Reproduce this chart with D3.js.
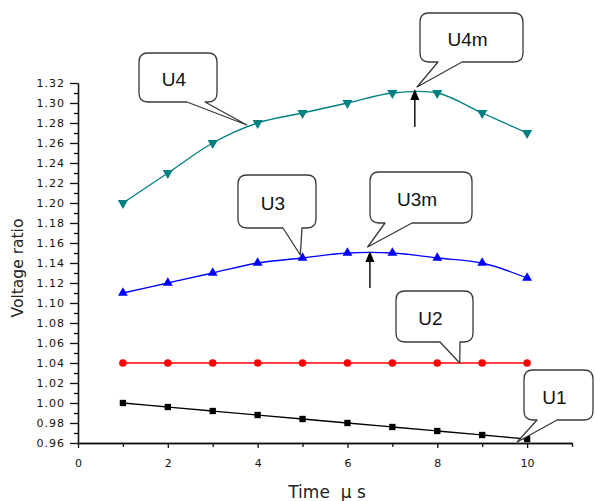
<!DOCTYPE html>
<html>
<head>
<meta charset="utf-8">
<script src="https://cdn.jsdelivr.net/npm/d3@7"></script>
<style>
	body { margin: 0; background: #fff; }
	svg { display: block; }
</style>
</head>
<body>
<svg id="chart" width="595" height="501"></svg>
<script>
// values
var time = [1, 2, 3, 4, 5, 6, 7, 8, 9, 10];
var u1 = [1.000, 0.996, 0.992, 0.988, 0.984, 0.980, 0.976, 0.972, 0.968, 0.964];
var u2 = [1.04, 1.04, 1.04, 1.04, 1.04, 1.04, 1.04, 1.04, 1.04, 1.04];
var u3 = [1.110, 1.120, 1.130, 1.140, 1.145, 1.150, 1.150, 1.145, 1.140, 1.125];
var u4 = [1.200, 1.230, 1.260, 1.280, 1.290, 1.300, 1.310, 1.310, 1.290, 1.270];
var xTicks = [0, 2, 4, 6, 8, 10];
var yTicks = [0.96, 0.98, 1.00, 1.02, 1.04, 1.06, 1.08, 1.10, 1.12, 1.14, 1.16, 1.18, 1.20, 1.22, 1.24, 1.26, 1.28, 1.30, 1.32];
// callout labels, tip given in data units
var calloutLabels = ["U4", "U4m", "U3", "U3m", "U2", "U1"];
var calloutTipX = [3.76, 7.55, 4.95, 6.45, 8.5, 9.78];
var calloutTipY = [1.278, 1.316, 1.148, 1.156, 1.04, 0.961];
// markers for the maxima
var arrowX = [7.5, 6.5];
var arrowFrom = [1.276, 1.115];
var arrowTo = [1.314, 1.152];

var svg = d3.select("#chart");
var width = 595, height = 501;
var margin = { top: 83, right: 23, bottom: 58, left: 78 };

var x = d3.scaleLinear()
	.domain([0, 11])
	.range([margin.left, width - margin.right]);
var y = d3.scaleLinear()
	.domain([0.96, 1.32])
	.range([height - margin.bottom, margin.top]);

var fontTick = "DejaVu Sans";

// x axis: minor ticks then majors with labels
var xMinor = [1, 3, 5, 7, 9, 11];
svg.append("g")
	.attr("transform", `translate(0, ${y(0.96)})`)
	.call(d3.axisBottom(x).tickValues(xMinor).tickSize(4).tickSizeOuter(0).tickFormat(""));
var gx = svg.append("g")
	.attr("transform", `translate(0, ${y(0.96)})`)
	.call(d3.axisBottom(x).tickValues(xTicks).tickSize(5).tickSizeOuter(0).tickPadding(11).tickFormat(d3.format("d")));
gx.selectAll("text")
	.attr("font-family", fontTick)
	.attr("font-size", "11px")
	.attr("fill", "#111");

// y axis
var yMinor = yTicks.slice(0, -1).map(d => +(d + 0.01).toFixed(2));
svg.append("g")
	.attr("transform", `translate(${x(0)}, 0)`)
	.call(d3.axisLeft(y).tickValues(yMinor).tickSize(4).tickSizeOuter(0).tickFormat(""));
var gy = svg.append("g")
	.attr("transform", `translate(${x(0)}, 0)`)
	.call(d3.axisLeft(y).tickValues(yTicks).tickSize(8).tickSizeOuter(0).tickPadding(5).tickFormat(d3.format(".2f")));
gy.selectAll("text")
	.attr("font-family", fontTick)
	.attr("font-size", "11px")
	.attr("letter-spacing", "1px")
	.attr("fill", "#111");

svg.selectAll(".domain, .tick line")
	.attr("stroke", "#111")
	.attr("stroke-width", 1.3);

// axis titles
svg.append("text")
	.attr("x", 327)
	.attr("y", 498)
	.attr("text-anchor", "middle")
	.attr("font-family", "DejaVu Sans")
	.attr("font-size", "17px")
	.attr("fill", "#222")
	.style("white-space", "pre")
	.text("Time  \u03bc s");
svg.append("text")
	.attr("x", -268)
	.attr("y", 23)
	.attr("transform", "rotate(-90)")
	.attr("text-anchor", "middle")
	.attr("font-family", "DejaVu Sans")
	.attr("font-size", "15.5px")
	.attr("fill", "#222")
	.text("Voltage ratio");

// series
var series = [
	{ name: "U1", values: u1, color: "#000000", symbol: d3.symbolSquare, size: 40, rot: 0 },
	{ name: "U2", values: u2, color: "#ff0000", symbol: d3.symbolCircle, size: 45, rot: 0 },
	{ name: "U3", values: u3, color: "#0000ff", symbol: d3.symbolTriangle, size: 42, rot: 0 },
	{ name: "U4", values: u4, color: "#008080", symbol: d3.symbolTriangle, size: 45, rot: 180 }
];

var line = d3.line()
	.x((d, i) => x(time[i]))
	.y(d => y(d))
	.curve(d3.curveCatmullRom);

series.forEach(s => {
	svg.append("path")
		.datum(s.values)
		.attr("fill", "none")
		.attr("stroke", s.color)
		.attr("stroke-width", 1.3)
		.attr("d", line);
	svg.selectAll(null)
		.data(s.values)
		.enter()
		.append("path")
		.attr("d", d3.symbol().type(s.symbol).size(s.size))
		.attr("transform", (d, i) => `translate(${x(time[i])}, ${y(d)}) rotate(${s.rot})`)
		.attr("fill", s.color);
});

// arrows pointing at the maxima
arrowX.forEach((ax, i) => {
	var px = x(ax), y0 = y(arrowFrom[i]), y1 = y(arrowTo[i]);
	svg.append("line")
		.attr("x1", px).attr("x2", px)
		.attr("y1", y0).attr("y2", y1 + 8)
		.attr("stroke", "#000")
		.attr("stroke-width", 1.4);
	svg.append("path")
		.attr("d", `M${px},${y1} L${px - 4.5},${y1 + 11} L${px + 4.5},${y1 + 11} Z`)
		.attr("fill", "#000");
});

// callout boxes (box corners and pointer base in pixels)
var calloutBoxes = [
	{ x0: 139, y0: 53, x1: 217, y1: 102, b0: 187, b1: 205 },
	{ x0: 420, y0: 13, x1: 523, y1: 62, b0: 438, b1: 462 },
	{ x0: 238, y0: 175, x1: 316, y1: 228, b0: 283, b1: 302 },
	{ x0: 370, y0: 172, x1: 472, y1: 223, b0: 385, b1: 412 },
	{ x0: 396, y0: 291, x1: 473, y1: 342, b0: 440, b1: 460 },
	{ x0: 524, y0: 370, x1: 593, y1: 420, b0: 537, b1: 557 }
];

function bubble(b, tx, ty) {
	var r = 9;
	var p = d3.path();
	p.moveTo(b.x0 + r, b.y0);
	p.lineTo(b.x1 - r, b.y0);
	p.quadraticCurveTo(b.x1, b.y0, b.x1, b.y0 + r);
	p.lineTo(b.x1, b.y1 - r);
	p.quadraticCurveTo(b.x1, b.y1, b.x1 - r, b.y1);
	p.lineTo(b.b1, b.y1);
	p.lineTo(tx, ty);
	p.lineTo(b.b0, b.y1);
	p.lineTo(b.x0 + r, b.y1);
	p.quadraticCurveTo(b.x0, b.y1, b.x0, b.y1 - r);
	p.lineTo(b.x0, b.y0 + r);
	p.quadraticCurveTo(b.x0, b.y0, b.x0 + r, b.y0);
	p.closePath();
	return p.toString();
}

calloutLabels.forEach((lab, i) => {
	var b = calloutBoxes[i];
	var tx = x(calloutTipX[i]), ty = y(calloutTipY[i]);
	svg.append("path")
		.attr("d", bubble(b, tx, ty))
		.attr("fill", "#fff")
		.attr("stroke", "#3a3a3a")
		.attr("stroke-width", 1.3)
		.attr("stroke-linejoin", "round");
	svg.append("text")
		.attr("x", (b.x0 + b.x1) / 2 - 4)
		.attr("y", (b.y0 + b.y1) / 2 + 2)
		.attr("text-anchor", "middle")
		.attr("dominant-baseline", "central")
		.attr("font-family", "Liberation Sans")
		.attr("font-size", "19px")
		.attr("fill", "#111")
		.text(lab);
});
</script>
</body>
</html>
